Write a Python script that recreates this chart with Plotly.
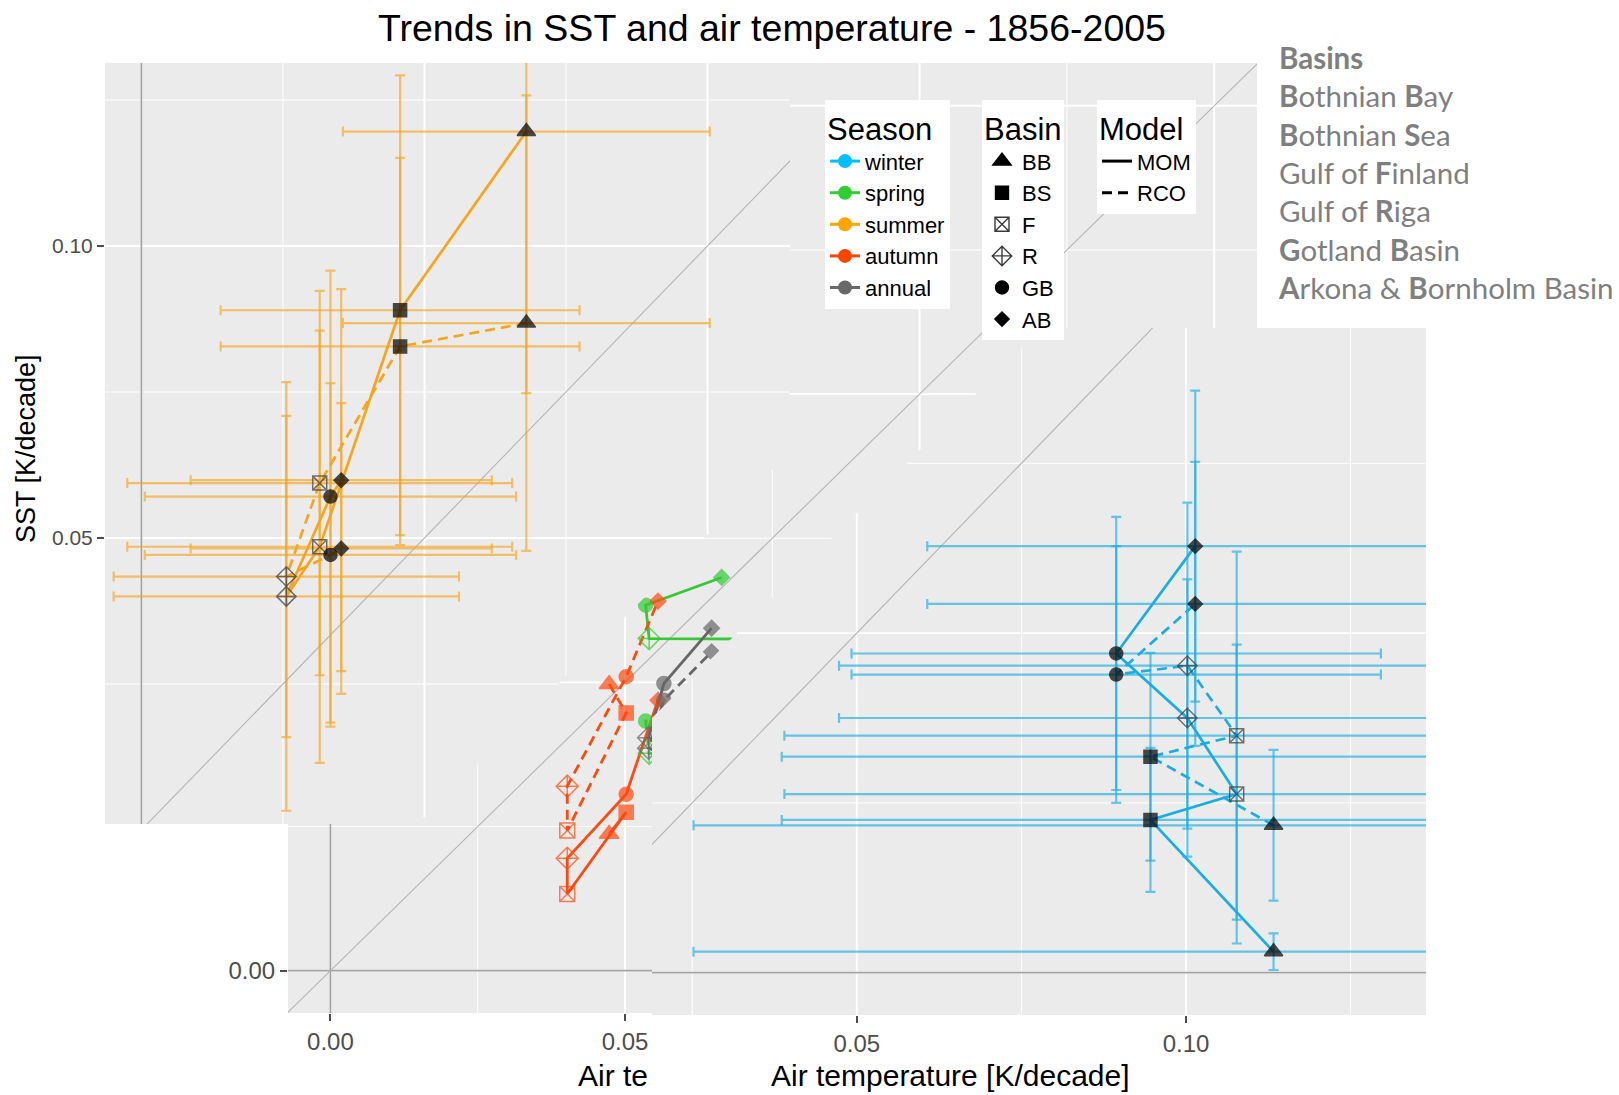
import math
import plotly.graph_objects as go

W, H = 1619, 1095

# ------------------------------------------------------------------ data
basins = ["BB", "BS", "F", "R", "GB", "AB"]
seasons = ["winter", "spring", "summer", "autumn", "annual"]
models = ["MOM", "RCO"]

# summer (top-left inset)
summer_air     = [0.0680, 0.0457, 0.0315, 0.0256, 0.0334, 0.0353]
summer_air_err = [0.0324, 0.0317, 0.0340, 0.0305, 0.0328, 0.0266]
summer_mom     = [0.1196, 0.0890, 0.0485, 0.0400, 0.0571, 0.0599]
summer_mom_err = [0.0448, 0.0402, 0.0370, 0.0367, 0.0387, 0.0327]
summer_rco     = [0.0868, 0.0828, 0.0594, 0.0434, 0.0471, 0.0482]
summer_rco_err = [0.0390, 0.0323, 0.0329, 0.0275, 0.0294, 0.0249]

# winter (bottom-right inset)
winter_air     = [0.1133, 0.0946, 0.1077, 0.1002, 0.0894, 0.1014]
winter_air_err = [0.0881, 0.0560, 0.0687, 0.0529, 0.0402, 0.0407]
winter_mom     = [0.0031, 0.0225, 0.0263, 0.0375, 0.0470, 0.0628]
winter_mom_err = [0.0027, 0.0106, 0.0220, 0.0204, 0.0201, 0.0229]
winter_rco     = [0.0217, 0.0318, 0.0349, 0.0452, 0.0439, 0.0543]
winter_rco_err = [0.0111, 0.0153, 0.0271, 0.0240, 0.0189, 0.0209]

# autumn, spring, annual (background panel)
autumn_air = [0.0473, 0.0502, 0.0402, 0.0402, 0.0502, 0.0556]
autumn_mom = [0.0237, 0.0275, 0.0133, 0.0195, 0.0306, 0.0469]
autumn_rco = [0.0497, 0.0447, 0.0243, 0.0320, 0.0510, 0.0641]

spring_air = [0.0900, 0.0860, 0.0820, 0.0541, 0.0535, 0.0664]
spring_mom = [0.0350, 0.0460, 0.0575, 0.0576, 0.0634, 0.0682]
spring_rco = [0.0300, 0.0420, 0.0360, 0.0377, 0.0433, 0.0450]

annual_air = [0.0850, 0.0800, 0.0750, 0.0540, 0.0566, 0.0647]
annual_mom = [0.0300, 0.0380, 0.0320, 0.0404, 0.0498, 0.0594]
annual_rco = [0.0280, 0.0360, 0.0300, 0.0386, 0.0469, 0.0553]

# ------------------------------------------------------------------ styles
FONT = "Liberation Sans"
line_color = {"winter": "#1AADE4", "spring": "#35C935", "summer": "#F7A51E",
              "autumn": "#FF4A0F", "annual": "#676767"}
err_color = {"winter": "rgba(26,173,228,0.65)", "summer": "rgba(247,165,30,0.65)"}
legend_color = {"winter": "#00BFFF", "spring": "#32CD32", "summer": "#FFA500",
                "autumn": "#FF4500", "annual": "#696969"}
symbol = {"BB": "triangle-up", "BS": "square", "F": "square-x-open",
          "R": "diamond-cross-open", "GB": "circle", "AB": "diamond"}
msize = {"BB": 16, "BS": 13, "F": 14, "R": 15, "GB": 13, "AB": 11}
msize_main = {"BB": 17, "BS": 14, "F": 15, "R": 17, "GB": 14, "AB": 12}
dash = {"MOM": "solid", "RCO": "10px,6px"}

# panel geometry in pixels of the composite picture
panels = {
    "main":   dict(ax="",  X0=330.4, sx=5892, Y0=970.7, sy=5766,
                   L=288, R=1257, T=63, B=1013, cut=None),
    "summer": dict(ax="2", X0=141.4, sx=5661, Y0=830.0, sy=5840,
                   L=105, R=790, T=63, B=824, cut=("lt", 1242)),
    "winter": dict(ax="3", X0=527.6, sx=6584, Y0=972.7, sy=6792,
                   L=652, R=1426, T=328, B=1015, cut=("gt", 1370)),
}

fig = go.Figure()


def ranges(P):
    xr = [(P["L"] - P["X0"]) / P["sx"], (P["R"] - P["X0"]) / P["sx"]]
    yr = [(P["Y0"] - P["B"]) / P["sy"], (P["Y0"] - P["T"]) / P["sy"]]
    return xr, yr


def fval(p, P):
    kind, C = P["cut"]
    s = P["X0"] + P["sx"] * p[0] + P["Y0"] - P["sy"] * p[1] - C
    return -s if kind == "lt" else s


def clip_poly(poly, P):
    if P["cut"] is None:
        return poly
    out = []
    n = len(poly)
    for i in range(n):
        a, b = poly[i], poly[(i + 1) % n]
        fa, fb = fval(a, P), fval(b, P)
        if fa >= 0:
            out.append(a)
        if (fa >= 0) != (fb >= 0):
            t = fa / (fa - fb)
            out.append((a[0] + t * (b[0] - a[0]), a[1] + t * (b[1] - a[1])))
    return out


def clip_seg(a, b, P):
    if P["cut"] is None:
        return a, b
    fa, fb = fval(a, P), fval(b, P)
    if fa < 0 and fb < 0:
        return None
    if fa >= 0 and fb >= 0:
        return a, b
    t = fa / (fa - fb)
    m = (a[0] + t * (b[0] - a[0]), a[1] + t * (b[1] - a[1]))
    return (a, m) if fa >= 0 else (m, b)


def axes(P):
    return dict(xaxis="x" + P["ax"], yaxis="y" + P["ax"])


def add_frame(P):
    xr, yr = ranges(P)
    pad = 0.01
    rect = [(xr[0] - pad, yr[0] - pad), (xr[1] + pad, yr[0] - pad),
            (xr[1] + pad, yr[1] + pad), (xr[0] - pad, yr[1] + pad)]
    poly = clip_poly(rect, P)
    fig.add_trace(go.Scatter(
        x=[p[0] for p in poly] + [poly[0][0]], y=[p[1] for p in poly] + [poly[0][1]],
        mode="lines", fill="toself", fillcolor="#EBEBEB", line=dict(width=0),
        hoverinfo="skip", showlegend=False, **axes(P)))
    step = 0.025
    for major in (False, True):
        xs, ys = [], []
        for k in range(math.floor(xr[0] / step), math.ceil(xr[1] / step) + 1):
            if (k % 2 == 0) != major:
                continue
            seg = clip_seg((k * step, yr[0] - pad), (k * step, yr[1] + pad), P)
            if seg:
                xs += [seg[0][0], seg[1][0], None]
                ys += [seg[0][1], seg[1][1], None]
        for k in range(math.floor(yr[0] / step), math.ceil(yr[1] / step) + 1):
            if (k % 2 == 0) != major:
                continue
            seg = clip_seg((xr[0] - pad, k * step), (xr[1] + pad, k * step), P)
            if seg:
                xs += [seg[0][0], seg[1][0], None]
                ys += [seg[0][1], seg[1][1], None]
        fig.add_trace(go.Scatter(
            x=xs, y=ys, mode="lines",
            line=dict(color="white", width=1.9 if major else 1.0),
            hoverinfo="skip", showlegend=False, **axes(P)))
    # reference lines: x = 0, y = 0 and 1:1
    for a, b, col, w in [((0, -1), (0, 1), "#A3A3A3", 1.7),
                         ((-1, 0), (1, 0), "#A3A3A3", 1.7),
                         ((-1, -1), (1, 1), "#B5B5B5", 1.1)]:
        seg = clip_seg(a, b, P)
        if seg:
            fig.add_trace(go.Scatter(
                x=[seg[0][0], seg[1][0]], y=[seg[0][1], seg[1][1]], mode="lines",
                line=dict(color=col, width=w), hoverinfo="skip",
                showlegend=False, **axes(P)))


def marker_style(colors_filled, colors_open, sizes):
    cols = [colors_open if symbol[b].endswith("open") else colors_filled for b in basins]
    return dict(symbol=[symbol[b] for b in basins], size=[sizes[b] for b in basins],
                color=cols, line=dict(width=1.5, color=cols))


def add_inset(P, season, air, air_err, series):
    # series: list of (model, sst, sst_err)
    for model, sst, sst_err in series:
        fig.add_trace(go.Scatter(
            x=air, y=sst, mode="markers",
            marker=dict(size=2, color="rgba(0,0,0,0)"),
            error_x=dict(type="data", array=air_err, color=err_color[season],
                         thickness=2.2, width=5),
            error_y=dict(type="data", array=sst_err, color=err_color[season],
                         thickness=2.2, width=5),
            hoverinfo="skip", showlegend=False, **axes(P)))
    for model, sst, _ in series:
        fig.add_trace(go.Scatter(
            x=air, y=sst, mode="lines",
            line=dict(color=line_color[season], width=2.7, dash=dash[model]),
            hoverinfo="skip", showlegend=False, **axes(P)))
    for model, sst, _ in series:
        fig.add_trace(go.Scatter(
            x=air, y=sst, mode="markers",
            marker=marker_style("#000000", "#3A3A3A", msize),
            hoverinfo="skip", showlegend=False, **axes(P)))


# ---------------- background panel (autumn / spring / annual)
PM = panels["main"]
add_frame(PM)
main_series = [("spring", spring_air, spring_mom, spring_rco),
               ("autumn", autumn_air, autumn_mom, autumn_rco),
               ("annual", annual_air, annual_mom, annual_rco)]
for season, air, mom, rco in main_series:
    for model, sst in (("MOM", mom), ("RCO", rco)):
        fig.add_trace(go.Scatter(
            x=air, y=sst, mode="lines",
            line=dict(color=line_color[season], width=2.8, dash=dash[model]),
            hoverinfo="skip", showlegend=False, **axes(PM)))
for season, air, mom, rco in main_series:
    for model, sst in (("MOM", mom), ("RCO", rco)):
        fig.add_trace(go.Scatter(
            x=air, y=sst, mode="markers",
            marker=marker_style(line_color[season], line_color[season], msize_main),
            hoverinfo="skip", showlegend=False, **axes(PM)))

# ---------------- summer inset
PS = panels["summer"]
add_frame(PS)
add_inset(PS, "summer", summer_air, summer_air_err,
          [("MOM", summer_mom, summer_mom_err), ("RCO", summer_rco, summer_rco_err)])

# ---------------- winter inset
PW = panels["winter"]
add_frame(PW)
add_inset(PW, "winter", winter_air, winter_air_err,
          [("MOM", winter_mom, winter_mom_err), ("RCO", winter_rco, winter_rco_err)])

# ---------------- legends (key-only traces)
for s in seasons:
    fig.add_trace(go.Scatter(
        x=[None], y=[None], mode="lines+markers", name=s, legend="legend",
        marker=dict(symbol="circle", size=14, color=legend_color[s]),
        line=dict(color=legend_color[s], width=3), showlegend=True))
for b in basins:
    fig.add_trace(go.Scatter(
        x=[None], y=[None], mode="markers", name=b, legend="legend2",
        marker=dict(symbol=symbol[b], size=msize[b],
                    color="#3A3A3A" if symbol[b].endswith("open") else "black",
                    line=dict(width=1.4, color="#3A3A3A" if symbol[b].endswith("open") else "black")),
        showlegend=True))
for m in models:
    fig.add_trace(go.Scatter(
        x=[None], y=[None], mode="lines", name=m, legend="legend3",
        line=dict(color="black", width=3, dash=dash[m]), showlegend=True))

# ---------------- axes
tickfont = dict(family=FONT, size=24, color="#4D4D4D")


def axis_common(P, which):
    xr, yr = ranges(P)
    d = dict(showgrid=False, zeroline=False, showline=False, automargin=False,
             ticks="outside", ticklen=7, tickwidth=1.5, tickcolor="#4D4D4D",
             tickfont=tickfont)
    if which == "x":
        d.update(domain=[P["L"] / W, P["R"] / W], range=xr, anchor="y" + P["ax"])
    else:
        d.update(domain=[1 - P["B"] / H, 1 - P["T"] / H], range=yr, anchor="x" + P["ax"])
    return d


layout_axes = {}
mx = axis_common(PM, "x"); mx.update(tickvals=[0, 0.05], ticktext=["0.00", "0.05"])
my = axis_common(PM, "y"); my.update(tickvals=[0], ticktext=["0.00"])
sx_ = axis_common(PS, "x"); sx_.update(showticklabels=False, ticks="")
sy_ = axis_common(PS, "y"); sy_.update(tickvals=[0.05, 0.10], ticktext=["0.05", "0.10"],
                                       tickfont=dict(family=FONT, size=21, color="#4D4D4D"))
wx = axis_common(PW, "x"); wx.update(tickvals=[0.05, 0.10], ticktext=["0.05", "0.10"])
wy = axis_common(PW, "y"); wy.update(showticklabels=False, ticks="")
layout_axes.update(xaxis=mx, yaxis=my, xaxis2=sx_, yaxis2=sy_, xaxis3=wx, yaxis3=wy)

legend_common = dict(bgcolor="white", borderwidth=0, xanchor="left", yanchor="top",
                     font=dict(family=FONT, size=22, color="black"),
                     tracegroupgap=0, traceorder="normal")
title_font = dict(family=FONT, size=31, color="black")

basins_text = ("<b>Basins</b><br><b>B</b>othnian <b>B</b>ay<br><b>B</b>othnian <b>S</b>ea<br>"
               "Gulf of <b>F</b>inland<br>Gulf of <b>R</b>iga<br><b>G</b>otland <b>B</b>asin<br>"
               "<b>A</b>rkona &amp; <b>B</b>ornholm Basin")

fig.update_layout(
    template="none",
    width=W, height=H, autosize=False,
    margin=dict(l=0, r=0, t=0, b=0),
    paper_bgcolor="white", plot_bgcolor="rgba(0,0,0,0)",
    font=dict(family=FONT, color="black"),
    title=dict(text="Trends in SST and air temperature - 1856-2005",
               x=772 / W, xanchor="center", y=1 - 28 / H, yanchor="middle",
               font=dict(family=FONT, size=37.5, color="black")),
    legend=dict(legend_common, title=dict(text="Season", font=title_font),
                x=825 / W, y=1 - 100 / H),
    legend2=dict(legend_common, title=dict(text="Basin", font=title_font),
                 x=982 / W, y=1 - 100 / H),
    legend3=dict(legend_common, title=dict(text="Model", font=title_font),
                 x=1097 / W, y=1 - 100 / H),
    annotations=[
        dict(text="SST [K/decade]", x=26 / W, y=1 - 449 / H, xref="paper", yref="paper",
             textangle=-90, showarrow=False, xanchor="center", yanchor="middle",
             font=dict(family=FONT, size=27, color="black")),
        dict(text="Air te", x=576 / W, y=1 - 1075 / H, xref="paper", yref="paper",
             showarrow=False, xanchor="left", yanchor="middle",
             font=dict(family=FONT, size=30, color="black")),
        dict(text="Air temperature [K/decade]", x=950 / W, y=1 - 1075 / H,
             xref="paper", yref="paper", showarrow=False, xanchor="center",
             yanchor="middle", font=dict(family=FONT, size=30, color="black")),
        dict(text=basins_text, x=1276 / W, y=1 - 38 / H, xref="paper", yref="paper",
             showarrow=False, xanchor="left", yanchor="top", align="left",
             font=dict(family="Lato", size=29.5, color="#7F7F7F")),
    ],
    **layout_axes,
)

fig.write_html("out.html", config={"displayModeBar": False},
               post_script="document.body.style.margin='0px';"
                           "document.body.style.overflow='hidden';")
